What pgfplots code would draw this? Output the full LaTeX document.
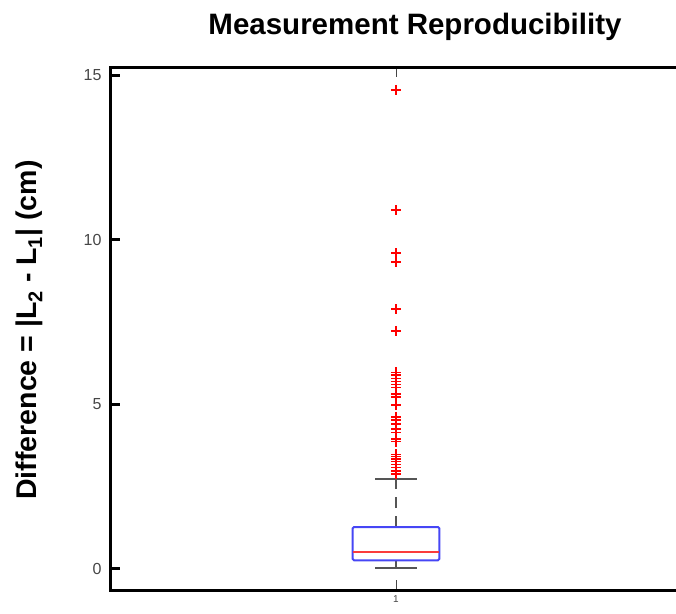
\documentclass[border=0pt]{standalone}
\usepackage{pgfplots}
\pgfplotsset{compat=1.18}
\usepackage{fontspec}
\setmainfont{Liberation Sans}
\definecolor{boxblue}{RGB}{70,70,245}
\definecolor{medred}{RGB}{250,60,60}
\definecolor{whiskgray}{RGB}{85,85,85}
\definecolor{tickgray}{RGB}{70,70,70}

\begin{document}
\begin{tikzpicture}[x=1pt,y=1pt]
\begin{axis}[
    at={(0,0)}, anchor=south west,
    scale only axis,
    width=572pt, height=522.5pt,
    xmin=0.5, xmax=1.5,
    ymin=-0.638, ymax=15.23,
    axis line style={line width=3pt},
    xtick={1}, ytick={0,5,10,15},
    ytick pos=left, xtick pos=both,
    tick align=inside,
    major tick length=10pt,
    xtick style={tickgray, line width=0.6pt},
    ytick style={draw=none},
    /pgf/number format/assume math mode=true,
    yticklabel style={font=\fontsize{16}{16}\selectfont, text=tickgray, xshift=-5pt},
    xticklabel style={font=\fontsize{10}{10}\selectfont, text=tickgray, yshift=-2pt},
    clip=false,
]
% y ticks, drawn as short thick stubs inside the frame
\addplot[black, line width=3pt, forget plot] coordinates {(0.5,0) (0.5175,0)};
\addplot[black, line width=3pt, forget plot] coordinates {(0.5,5) (0.5175,5)};
\addplot[black, line width=3pt, forget plot] coordinates {(0.5,10) (0.5175,10)};
\addplot[black, line width=3pt, forget plot] coordinates {(0.5,15) (0.5175,15)};
% whiskers (dashed)
\addplot[whiskgray, line width=2pt, dash pattern=on 11pt off 8pt] coordinates {(1,1.275) (1,2.74)};
\addplot[whiskgray, line width=2pt] coordinates {(1,0.02) (1,0.264)};
% caps
\addplot[whiskgray, line width=2pt] coordinates {(0.9633,2.74) (1.0367,2.74)};
\addplot[whiskgray, line width=2pt] coordinates {(0.9633,0.02) (1.0367,0.02)};
% box
\addplot[boxblue, line width=2pt, rounded corners=1.5pt] coordinates {(0.924,0.264) (1.076,0.264) (1.076,1.275) (0.924,1.275)} -- cycle;
% median
\addplot[medred, line width=1.8pt] coordinates {(0.924,0.52) (1.076,0.52)};
% outliers
\addplot[only marks, mark=+, mark size=5pt, red, mark options={line width=1.5pt}] coordinates {
    (1,14.55) (1,10.9) (1,9.59) (1,9.33) (1,7.89) (1,7.23)
    (1,5.97) (1,5.89) (1,5.79) (1,5.69) (1,5.61) (1,5.51)
    (1,5.31) (1,5.23) (1,4.98) (1,4.62) (1,4.52) (1,4.40)
    (1,4.25) (1,4.15) (1,3.95) (1,3.87) (1,3.48) (1,3.41)
    (1,3.34) (1,3.26) (1,3.18) (1,3.08) (1,2.98) (1,2.88)
};
\end{axis}
\node[anchor=base, font=\fontsize{29.5}{29.5}\selectfont\bfseries] at (305,555) {Measurement Reproducibility};
\node[anchor=base, rotate=90, font=\fontsize{28.5}{28.5}\selectfont\bfseries] at (-73,260) {Difference = |L\textsubscript{2} - L\textsubscript{1}| (cm)};
\pgfresetboundingbox
\useasboundingbox (-110,-23) rectangle (566,590);
\end{tikzpicture}
\end{document}
